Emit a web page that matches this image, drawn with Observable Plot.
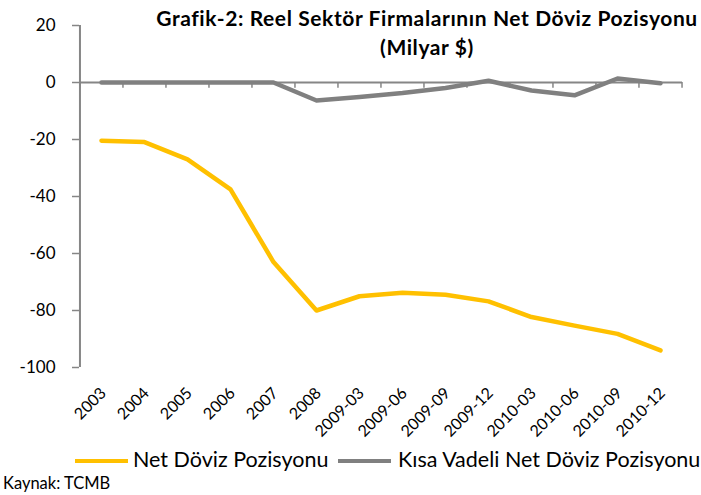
<!DOCTYPE html>
<html><head><meta charset="utf-8">
<script src="https://cdn.jsdelivr.net/npm/d3@7"></script>
<script src="https://cdn.jsdelivr.net/npm/@observablehq/plot@0.6"></script>
<style>
body{margin:0;background:#fff;}
#wrap{position:relative;width:701px;height:495px;overflow:hidden;font-family:Lato, sans-serif;color:#000;background:#fff;}
#chart svg{display:block}
.title{position:absolute;left:127px;width:600px;top:3px;text-align:center;font-weight:700;font-size:21px;letter-spacing:0.6px;line-height:29px;white-space:nowrap;}
.lg{position:absolute;height:4.5px;width:53px;top:458.75px;}
.lt{position:absolute;top:446.4px;font-size:21.5px;line-height:26px;white-space:nowrap;}
.cap{position:absolute;left:3px;top:475px;font-size:16.5px;line-height:17px;white-space:nowrap;}
</style></head>
<body>
<div id="wrap">
  <div id="chart"></div>
  <div class="title">Grafik-2: Reel Sektör Firmalarının Net Döviz Pozisyonu<br>(Milyar $)</div>
  <div class="lg" style="left:75px;background:#FFC000"></div>
  <div class="lt" style="left:133px">Net Döviz Pozisyonu</div>
  <div class="lg" style="left:338px;background:#808080"></div>
  <div class="lt" style="left:398px">Kısa Vadeli Net Döviz Pozisyonu</div>
  <div class="cap">Kaynak: TCMB</div>
</div>
<script>
const categories = ["2003","2004","2005","2006","2007","2008","2009-03","2009-06","2009-09","2009-12","2010-03","2010-06","2010-09","2010-12"];
const netPos = [-20.4,-20.9,-27,-37.5,-63,-80,-75,-73.8,-74.5,-76.8,-82.3,-85.3,-88.2,-94];
const shortPos = [0,0,0,0,0,-6.3,-5.1,-3.7,-1.9,0.6,-2.8,-4.5,1.4,-0.3];
const yTicks = [-100,-80,-60,-40,-20,0,20];

const W = 701, H = 440, mL = 79, mR = 19, mT = 25, mB = 73;
const step = (W - mL - mR) / categories.length;
const rows = categories.map((c, i) => ({c, net: netPos[i], short: shortPos[i]}));
const axisGray = "#868686";

const chart = Plot.plot({
  width: W, height: H,
  marginLeft: mL, marginRight: mR, marginTop: mT, marginBottom: mB,
  style: {fontFamily: "Lato, sans-serif", background: "#fff", color: "#000"},
  x: {type: "point", domain: categories, padding: 0.5, label: null},
  y: {domain: [-100, 20], label: null},
  marks: [
    Plot.ruleY([0], {stroke: axisGray, strokeWidth: 2}),
    Plot.ruleX(categories, {x: d => d, y1: 0, y2: -2, dx: -step / 2, stroke: axisGray, strokeWidth: 1.5}),
    Plot.ruleX([categories[categories.length - 1]], {x: d => d, y1: 0, y2: -2, dx: step / 2, stroke: axisGray, strokeWidth: 1.5}),
    Plot.ruleX([categories[0]], {x: d => d, y1: -100, y2: 20, dx: -step / 2, stroke: axisGray, strokeWidth: 2}),
    Plot.axisY({ticks: yTicks, tickFormat: d => String(d), tickSize: 7, tickPadding: 17, fontSize: 17, stroke: axisGray, strokeWidth: 1.5, fill: "#000", label: null}),
    Plot.axisX({tickSize: 0, tickPadding: 23, tickRotate: -45, fontSize: 16, fill: "#000", dx: 2, label: null}),
    Plot.line(rows, {x: "c", y: "short", stroke: "#808080", strokeWidth: 4.5}),
    Plot.line(rows, {x: "c", y: "net", stroke: "#FFC000", strokeWidth: 4.5})
  ]
});
document.getElementById("chart").appendChild(chart);
</script>
</body></html>
